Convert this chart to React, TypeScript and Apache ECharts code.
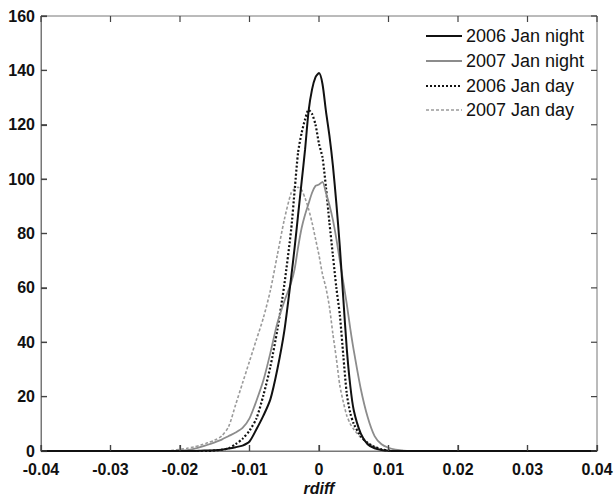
import React, { useEffect, useRef } from "react";
import * as echarts from "echarts";

const xValues = [
  -0.04, -0.03, -0.025, -0.022, -0.021, -0.02, -0.019, -0.018, -0.017, -0.016, -0.015, -0.014,
  -0.013, -0.012, -0.011, -0.01, -0.009, -0.008, -0.007, -0.006, -0.005, -0.004, -0.0035, -0.003,
  -0.0025, -0.002, -0.0015, -0.001, -0.0005, 0, 0.0005, 0.001, 0.0015, 0.002, 0.0025, 0.003, 0.0035,
  0.004, 0.0045, 0.005, 0.006, 0.007, 0.008, 0.009, 0.01, 0.011, 0.012, 0.013, 0.014, 0.015, 0.02,
  0.03, 0.04,
];

const night2006 = [
  0, 0, 0, 0, 0, 0, 0, 0, 0.1, 0.2, 0.3, 0.5,
  0.9, 1.4, 2, 3.5, 8, 13, 19, 30, 44, 64, 75, 87,
  99, 111, 125, 133, 137.5, 139, 135, 125, 116, 105, 91, 75, 56,
  37.5, 24, 15, 6.5, 2.5, 1, 0.4, 0.1, 0, 0, 0, 0, 0, 0,
  0, 0,
];

const night2007 = [
  0, 0, 0, 0, 0, 0.1, 0.3, 0.8, 1.5, 2.3, 3.2, 4.2,
  5.5, 6.8, 8.5, 12, 18.5, 26, 36, 47, 55, 62, 67, 75,
  82, 87, 91, 95, 97.5, 98, 99, 95, 90.5, 85, 78, 70, 62,
  54, 45, 37, 23, 12.5, 5.5, 2.5, 1.2, 0.5, 0.2, 0, 0, 0, 0,
  0, 0,
];

const day2006 = [
  0, 0, 0, 0, 0, 0, 0, 0, 0, 0, 0.2, 0.5,
  1, 2.5, 4.5, 7.5, 12, 20.5, 31, 44.5, 61, 81.6, 96, 110,
  117, 122, 125.5, 124, 120, 113, 108, 97, 84, 72, 60, 50, 35,
  21, 14, 10, 5.5, 3, 1.5, 0.6, 0.2, 0, 0, 0, 0, 0, 0,
  0, 0,
];

const day2007 = [
  0, 0, 0, 0, 0.3, 0.6, 1, 1.5, 2.2, 3, 4, 5.5,
  9, 17, 25, 33, 41, 49, 59, 72, 85, 95, 96.5, 97,
  96, 93, 89, 84, 78, 72, 65, 60, 53, 43, 34, 24, 18,
  13, 10, 8, 5, 3, 1.5, 0.5, 0, 0, 0, 0, 0, 0, 0,
  0, 0,
];

const seriesNames = ["2006 Jan night", "2007 Jan night", "2006 Jan day", "2007 Jan day"];
const xTickValues = [-0.04, -0.03, -0.02, -0.01, 0, 0.01, 0.02, 0.03, 0.04];
const yTickValues = [0, 20, 40, 60, 80, 100, 120, 140, 160];
const xTicks = { min: -0.04, max: 0.04, interval: 0.01 };
const yTicks = { min: 0, max: 160, interval: 20 };

const FONT = "'Liberation Sans', Arial, Helvetica, sans-serif";

const styles = [
  { color: "#111111", width: 2, type: "solid" as any },
  { color: "#8c8c8c", width: 1.8, type: "solid" as any },
  { color: "#111111", width: 2.2, type: [2, 2] as any },
  { color: "#9a9a9a", width: 1.6, type: [3, 2] as any },
];

export default function App() {
  const ref = useRef<HTMLDivElement>(null);
  useEffect(() => {
    document.body.style.margin = "0";
    const chart = echarts.init(ref.current!, null, { renderer: "svg" });
    const all = [night2006, night2007, day2006, day2007];
    const pairs = (arr: number[]) => xValues.map((x, i) => [x, arr[i]]);
    const axisColor = "#777777";
    const tickColor = "#444444";
    const labelStyle = {
      color: "#111",
      fontFamily: FONT,
      fontWeight: "bold" as const,
      fontSize: 16,
    };
    const legendY = [36, 61, 86, 110];
    const graphics: any[] = [];
    seriesNames.forEach((name, i) => {
      graphics.push({
        type: "line",
        shape: { x1: 426, y1: legendY[i], x2: 462, y2: legendY[i] },
        style: {
          stroke: styles[i].color,
          lineWidth: styles[i].width,
          lineDash: Array.isArray(styles[i].type) ? styles[i].type : null,
        },
      });
      graphics.push({
        type: "text",
        x: 466,
        y: legendY[i],
        style: {
          text: name,
          fill: "#111",
          font: `18px ${FONT}`,
          verticalAlign: "middle",
          align: "left",
        },
      });
    });
    const mkLine = () => ({ show: true, onZero: false, lineStyle: { color: axisColor, width: 1 } });
    const mkTick = () => ({
      show: true,
      inside: true,
      length: 6,
      lineStyle: { color: tickColor, width: 1.2 },
    });
    // tick positions as [x, y] data points in data space (x ticks sit on y = 0, y ticks on x = min)
    const tickData = [
      ...xTickValues.map((v) => [v, yTicks.min, 0]),
      ...yTickValues.map((v) => [xTicks.min, v, 1]),
    ];
    const TL = 6;
    const renderTick = (params: any, api: any) => {
      const xv = api.value(0);
      const yv = api.value(1);
      const kind = api.value(2);
      const st = { stroke: tickColor, lineWidth: 1.2, fill: null };
      if (kind === 0) {
        const b = api.coord([xv, yTicks.min]);
        const t = api.coord([xv, yTicks.max]);
        return {
          type: "group",
          children: [
            { type: "line", shape: { x1: b[0], y1: b[1], x2: b[0], y2: b[1] - TL }, style: st },
            { type: "line", shape: { x1: t[0], y1: t[1], x2: t[0], y2: t[1] + TL }, style: st },
          ],
        };
      }
      const l = api.coord([xTicks.min, yv]);
      const r = api.coord([xTicks.max, yv]);
      return {
        type: "group",
        children: [
          { type: "line", shape: { x1: l[0], y1: l[1], x2: l[0] + TL, y2: l[1] }, style: st },
          { type: "line", shape: { x1: r[0], y1: r[1], x2: r[0] - TL, y2: r[1] }, style: st },
        ],
      };
    };
    chart.setOption({
      animation: false,
      backgroundColor: "#fff",
      grid: {
        left: 41,
        right: 17,
        top: 16,
        bottom: 47,
        containLabel: false,
        outerBoundsMode: "none",
        show: true,
        borderColor: axisColor,
        borderWidth: 1,
      },
      xAxis: {
        type: "value",
        ...xTicks,
        axisLine: mkLine(),
        axisTick: mkTick(),
        splitLine: { show: false },
        axisLabel: {
          ...labelStyle,
          margin: 10,
          showMinLabel: true,
          showMaxLabel: true,
          hideOverlap: false,
          formatter: (v: number) => String(Number(v.toFixed(3))),
        },
        name: "rdiff",
        nameLocation: "middle",
        nameGap: 29,
        nameMoveOverlap: false,
        nameTextStyle: {
          color: "#111",
          fontFamily: FONT,
          fontWeight: "bold",
          fontStyle: "italic",
          fontSize: 16,
        },
      },
      yAxis: {
        type: "value",
        ...yTicks,
        axisLine: mkLine(),
        axisTick: mkTick(),
        splitLine: { show: false },
        axisLabel: { ...labelStyle, margin: 6, showMinLabel: true, showMaxLabel: true },
      },
      series: [
        ...all.map((arr, i) => ({
          name: seriesNames[i],
          type: "line",
          data: pairs(arr),
          showSymbol: false,
          symbol: "none",
          smooth: 0.25,
          z: 10 - i,
          lineStyle: { color: styles[i].color, width: styles[i].width, type: styles[i].type },
        })),
        {
          name: "ticks",
          type: "custom",
          coordinateSystem: "cartesian2d",
          data: tickData,
          dimensions: ["x", "y", "kind"],
          encode: { x: 0, y: 1 },
          renderItem: renderTick,
          clip: false,
          silent: true,
          z: 20,
        },
      ],
      graphic: graphics,
    });
    return () => chart.dispose();
  }, []);
  return (
    <div
      ref={ref}
      style={{ position: "absolute", left: 0, top: 0, width: 614, height: 498 }}
    />
  );
}
